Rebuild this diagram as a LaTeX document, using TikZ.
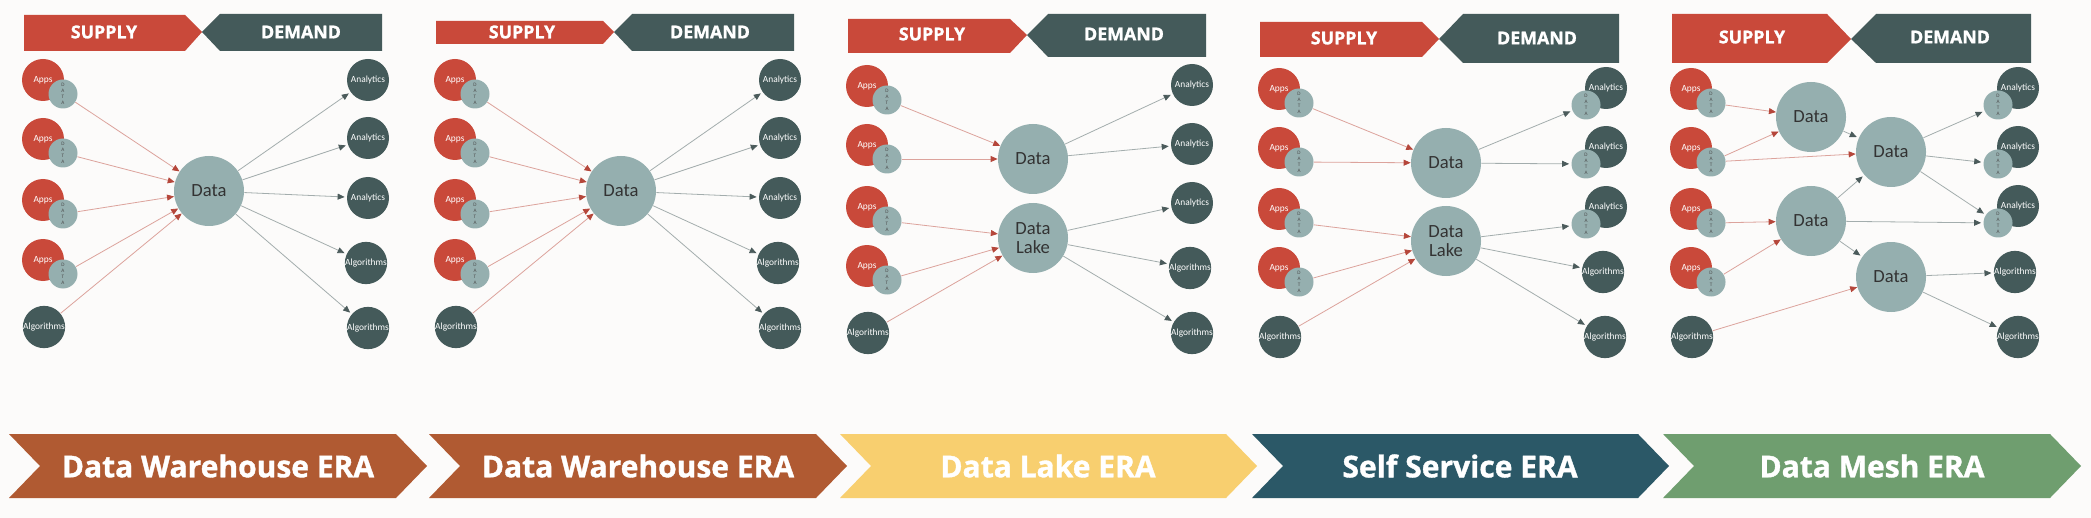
\documentclass[tikz,border=0pt]{standalone}
\usepackage{fontspec}
\setmainfont{Carlito}
\newfontfamily\headfont{Open Sans}[BoldFeatures={FakeBold=1.2}]
\usetikzlibrary{arrows.meta}

\definecolor{supred}{HTML}{C9493A}
\definecolor{demslate}{HTML}{445A5A}
\definecolor{datteal}{HTML}{95AFAF}
\definecolor{bgpaper}{HTML}{FCFBFA}
\definecolor{supline}{HTML}{DCA39C}
\definecolor{suptip}{HTML}{B5463A}
\definecolor{demline}{HTML}{A3ADAD}
\definecolor{demtip}{HTML}{4B5B5B}
\definecolor{eraware}{HTML}{B05A32}
\definecolor{eralake}{HTML}{F8CF6F}
\definecolor{eraself}{HTML}{2B5867}
\definecolor{eramesh}{HTML}{6F9E6F}

\begin{document}
\begin{tikzpicture}[x=0.5pt,y=-0.5pt,
    app/.style={circle,fill=supred,text=white,minimum size=21pt,inner sep=0pt,
        font=\fontsize{4.7}{5}\selectfont},
    outn/.style={circle,fill=demslate,text=white,minimum size=21pt,inner sep=0pt,
        font=\fontsize{4.7}{5}\selectfont},
    dat/.style={circle,fill=datteal,text=black!70,minimum size=14.5pt,inner sep=0pt,
        align=center,font=\fontsize{2.6}{2.9}\selectfont},
    hub/.style={circle,fill=datteal,text=black!80,minimum size=35pt,inner sep=0pt,
        align=center,font=\fontsize{9.3}{9.8}\selectfont},
    ban/.style={text=white,font=\headfont\bfseries\fontsize{8.9}{10}\selectfont},
    era/.style={text=white,font=\headfont\bfseries\fontsize{15}{16}\selectfont},
    sup/.style={draw=supline,line width=0.4pt,
        -{Triangle[length=3.5pt,width=3pt,color=suptip]}},
    dem/.style={draw=demline,line width=0.4pt,shorten >=1pt,
        -{Triangle[length=3.5pt,width=3pt,color=demtip]}}]

    \fill[bgpaper] (0,0) rectangle (2091,518);

    \fill[supred] (24,15) -- (185,15) -- (202,32) -- (185,51) -- (24,51) -- cycle;
    \fill[demslate] (202,32) -- (220,14) -- (382,14) -- (382,51) -- (220,51) -- cycle;
    \node[ban] (wa-sup) at (104,32) {SUPPLY};
    \node[ban] (wa-dem) at (301,32) {DEMAND};

    \fill[supred] (436,21) -- (603,21) -- (614,32) -- (603,44) -- (436,44) -- cycle;
    \fill[demslate] (614,32) -- (632,14) -- (794,14) -- (794,51) -- (632,51) -- cycle;
    \node[ban] (wb-sup) at (522,32) {SUPPLY};
    \node[ban] (wb-dem) at (710,32) {DEMAND};

    \fill[supred] (848,19) -- (1010,19) -- (1027,35) -- (1010,53) -- (848,53) -- cycle;
    \fill[demslate] (1027,35) -- (1048,14) -- (1206,14) -- (1206,57) -- (1048,57) -- cycle;
    \node[ban] (lk-sup) at (932,34) {SUPPLY};
    \node[ban] (lk-dem) at (1124,34) {DEMAND};

    \fill[supred] (1260,22) -- (1422,22) -- (1439,39) -- (1422,57) -- (1260,57) -- cycle;
    \fill[demslate] (1439,39) -- (1463,14) -- (1619,14) -- (1619,63) -- (1463,63) -- cycle;
    \node[ban] (ss-sup) at (1344,38) {SUPPLY};
    \node[ban] (ss-dem) at (1537,38) {DEMAND};

    \fill[supred] (1672,14) -- (1827,14) -- (1851,39) -- (1827,63) -- (1672,63) -- cycle;
    \fill[demslate] (1851,39) -- (1876,14) -- (2031,14) -- (2031,63) -- (1876,63) -- cycle;
    \node[ban] (dm-sup) at (1752,37) {SUPPLY};
    \node[ban] (dm-dem) at (1950,37) {DEMAND};

    \foreach \y [count=\i] in {80,139,200,260} {
        \node[app] (wa-app\i) at (43,\y) {Apps};
        \node[dat] (wa-dat\i) at (63,\y+14) {D\\A\\T\\A};
    }
    \node[outn] (wa-alg) at (44,327) {Algorithms};
    \node[hub] (wa-hub) at (209,191) {Data};
    \node[outn] (wa-out1) at (368,80) {Analytics};
    \node[outn] (wa-out2) at (368,138) {Analytics};
    \node[outn] (wa-out3) at (368,198) {Analytics};
    \node[outn] (wa-out4) at (366,263) {Algorithms};
    \node[outn] (wa-out5) at (368,328) {Algorithms};
    \foreach \i in {1,...,4} \draw[sup] (wa-dat\i) -- (wa-hub);
    \draw[sup] (wa-alg) -- (wa-hub);
    \foreach \i in {1,...,5} \draw[dem] (wa-hub) -- (wa-out\i);

    \foreach \y [count=\i] in {80,139,200,260} {
        \node[app] (wb-app\i) at (455,\y) {Apps};
        \node[dat] (wb-dat\i) at (475,\y+14) {D\\A\\T\\A};
    }
    \node[outn] (wb-alg) at (456,327) {Algorithms};
    \node[hub] (wb-hub) at (621,191) {Data};
    \node[outn] (wb-out1) at (780,80) {Analytics};
    \node[outn] (wb-out2) at (780,138) {Analytics};
    \node[outn] (wb-out3) at (780,198) {Analytics};
    \node[outn] (wb-out4) at (778,263) {Algorithms};
    \node[outn] (wb-out5) at (780,328) {Algorithms};
    \foreach \i in {1,...,4} \draw[sup] (wb-dat\i) -- (wb-hub);
    \draw[sup] (wb-alg) -- (wb-hub);
    \foreach \i in {1,...,5} \draw[dem] (wb-hub) -- (wb-out\i);

    \foreach \y [count=\i] in {86,145,207,266} {
        \node[app] (lk-app\i) at (867,\y) {Apps};
        \node[dat] (lk-dat\i) at (887,\y+14) {D\\A\\T\\A};
    }
    \node[outn] (lk-alg) at (868,333) {Algorithms};
    \node[hub] (lk-hub) at (1033,159) {Data};
    \node[hub] (lk-lake) at (1033,238) {Data\\Lake};
    \node[outn] (lk-out1) at (1192,85) {Analytics};
    \node[outn] (lk-out2) at (1192,144) {Analytics};
    \node[outn] (lk-out3) at (1192,203) {Analytics};
    \node[outn] (lk-out4) at (1190,268) {Algorithms};
    \node[outn] (lk-out5) at (1192,333) {Algorithms};
    \draw[sup] (lk-dat1) -- (lk-hub);
    \draw[sup] (lk-dat2) -- (lk-hub);
    \draw[sup] (lk-dat3) -- (lk-lake);
    \draw[sup] (lk-dat4) -- (lk-lake);
    \draw[sup] (lk-alg) -- (lk-lake);
    \draw[dem] (lk-hub) -- (lk-out1);
    \draw[dem] (lk-hub) -- (lk-out2);
    \foreach \i in {3,4,5} \draw[dem] (lk-lake) -- (lk-out\i);

    \foreach \y [count=\i] in {89,148,209,268} {
        \node[app] (ss-app\i) at (1279,\y) {Apps};
        \node[dat] (ss-dat\i) at (1299,\y+14) {D\\A\\T\\A};
    }
    \node[outn] (ss-alg) at (1280,337) {Algorithms};
    \node[hub] (ss-hub) at (1446,163) {Data};
    \node[hub] (ss-lake) at (1446,241) {Data\\Lake};
    \foreach \y [count=\i] in {88,147,207} {
        \node[outn] (ss-out\i) at (1606,\y) {Analytics};
        \node[dat] (ss-odat\i) at (1586,\y+17) {D\\A\\T\\A};
    }
    \node[outn] (ss-out4) at (1603,272) {Algorithms};
    \node[outn] (ss-out5) at (1605,337) {Algorithms};
    \draw[sup] (ss-dat1) -- (ss-hub);
    \draw[sup] (ss-dat2) -- (ss-hub);
    \draw[sup] (ss-dat3) -- (ss-lake);
    \draw[sup] (ss-dat4) -- (ss-lake);
    \draw[sup] (ss-alg) -- (ss-lake);
    \draw[dem] (ss-hub) -- (ss-odat1);
    \draw[dem] (ss-hub) -- (ss-odat2);
    \draw[dem] (ss-lake) -- (ss-odat3);
    \draw[dem] (ss-lake) -- (ss-out4);
    \draw[dem] (ss-lake) -- (ss-out5);

    \foreach \y [count=\i] in {89,148,209,268} {
        \node[app] (dm-app\i) at (1691,\y) {Apps};
        \node[dat] (dm-dat\i) at (1711,\y+14) {D\\A\\T\\A};
    }
    \node[outn] (dm-alg) at (1692,337) {Algorithms};
    \node[hub] (dm-hubA) at (1811,117) {Data};
    \node[hub] (dm-hubC) at (1811,221) {Data};
    \node[hub] (dm-hubB) at (1891,152) {Data};
    \node[hub] (dm-hubD) at (1891,277) {Data};
    \foreach \y [count=\i] in {88,147,206} {
        \node[outn] (dm-out\i) at (2018,\y) {Analytics};
        \node[dat] (dm-odat\i) at (1998,\y+17) {D\\A\\T\\A};
    }
    \node[outn] (dm-out4) at (2015,272) {Algorithms};
    \node[outn] (dm-out5) at (2018,337) {Algorithms};
    \draw[sup] (dm-dat1) -- (dm-hubA);
    \draw[sup] (dm-dat2) -- (dm-hubA);
    \draw[sup] (dm-dat2) -- (dm-hubB);
    \draw[sup] (dm-dat3) -- (dm-hubC);
    \draw[sup] (dm-dat4) -- (dm-hubC);
    \draw[sup] (dm-alg) -- (dm-hubD);
    \draw[dem] (dm-hubA) -- (dm-hubB);
    \draw[dem] (dm-hubC) -- (dm-hubB);
    \draw[dem] (dm-hubC) -- (dm-hubD);
    \draw[dem] (dm-hubC) -- (dm-odat3);
    \foreach \i in {1,2,3} \draw[dem] (dm-hubB) -- (dm-odat\i);
    \draw[dem] (dm-hubD) -- (dm-out4);
    \draw[dem] (dm-hubD) -- (dm-out5);

    \fill[eraware] (9,434) -- (396,434) -- (427,466) -- (396,498) -- (9,498) -- (40,466) -- cycle;
    \fill[eraware] (429,434) -- (816,434) -- (847,466) -- (816,498) -- (429,498) -- (460,466) -- cycle;
    \fill[eralake] (840,434) -- (1226,434) -- (1257,466) -- (1226,498) -- (840,498) -- (871,466) -- cycle;
    \fill[eraself] (1252,434) -- (1638,434) -- (1669,466) -- (1638,498) -- (1252,498) -- (1283,466) -- cycle;
    \fill[eramesh] (1663,434) -- (2050,434) -- (2081,466) -- (2050,498) -- (1663,498) -- (1694,466) -- cycle;
    \node[era] (era-wa) at (218,466) {Data Warehouse ERA};
    \node[era] (era-wb) at (638,466) {Data Warehouse ERA};
    \node[era] (era-lk) at (1048,466) {Data Lake ERA};
    \node[era] (era-ss) at (1460,466) {Self Service ERA};
    \node[era] (era-dm) at (1872,466) {Data Mesh ERA};
\end{tikzpicture}
\end{document}
